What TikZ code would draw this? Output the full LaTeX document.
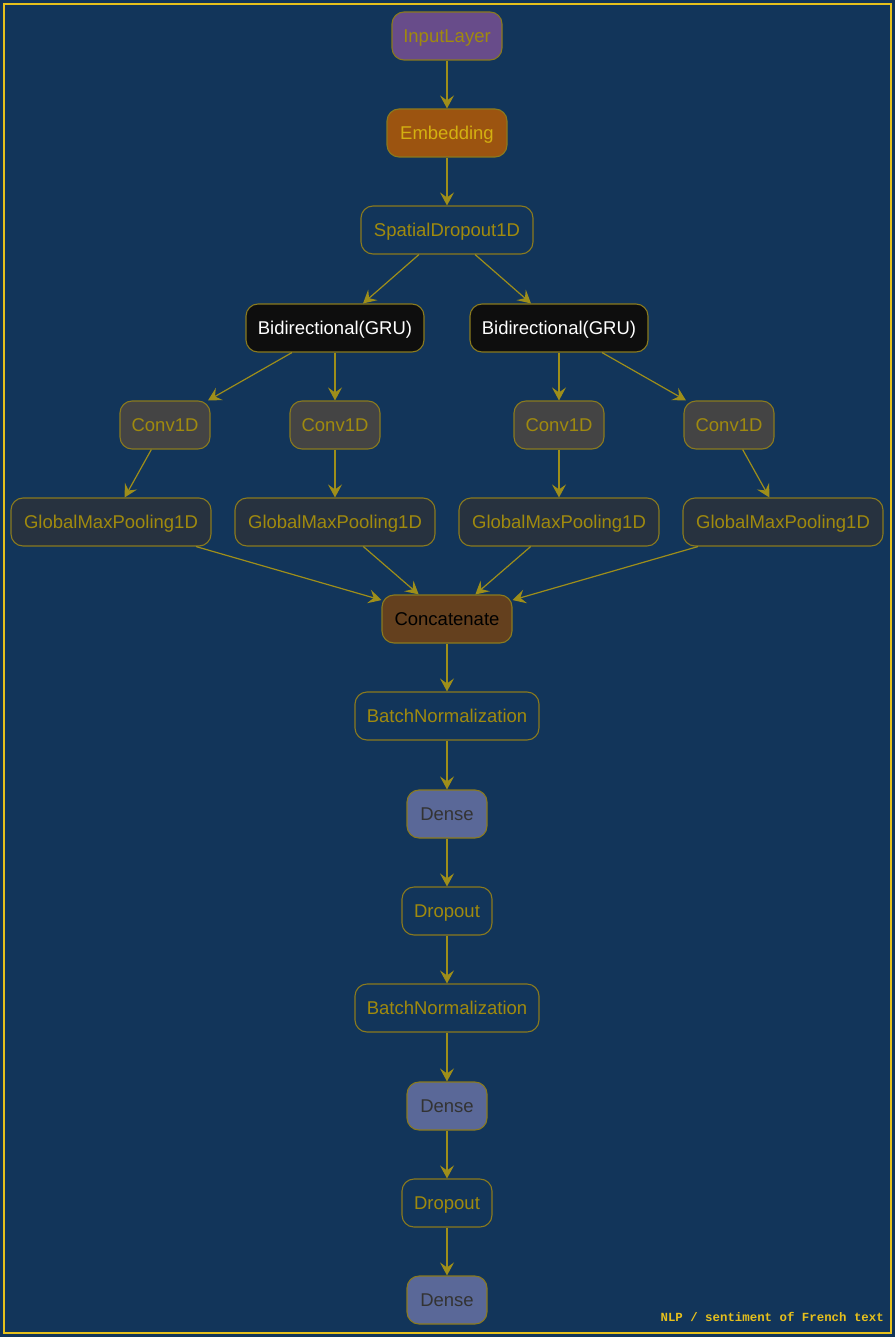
\documentclass[tikz,border=0pt]{standalone}
\usepackage{fontspec}
\setmainfont{Liberation Sans}
\newfontfamily\footfont{Liberation Mono}
\usetikzlibrary{arrows.meta}
\definecolor{bgc}{HTML}{12355A}
\definecolor{framec}{HTML}{E6C01C}
\definecolor{nborder}{HTML}{8A7A1E}
\definecolor{olive}{HTML}{A08A0E}
\definecolor{edgec}{HTML}{9E8E1A}
\definecolor{purp}{HTML}{684C8A}
\definecolor{embc}{HTML}{9C5410}
\definecolor{embt}{HTML}{D4B010}
\definecolor{gruc}{HTML}{0E0E0E}
\definecolor{convc}{HTML}{444444}
\definecolor{gmpc}{HTML}{27323F}
\definecolor{catc}{HTML}{64401E}
\definecolor{densec}{HTML}{5A6898}
\definecolor{denset}{HTML}{333333}
\tikzset{
  layer/.style={draw=nborder, line width=1.1pt, rounded corners=12pt, minimum height=48pt,
    inner sep=0pt, text height=13pt, text depth=0pt, text=olive, font=\fontsize{18.5}{22}\selectfont},
  conn/.style={draw=edgec, line width=1.2pt, -{Stealth[length=13pt,width=14pt,inset=5pt]}},
}
\begin{document}
\begin{tikzpicture}[x=1pt,y=-1pt]
\fill[bgc] (0,0) rectangle (895,1337);
\useasboundingbox (0,0) rectangle (895,1337);
\draw[framec, line width=2pt] (4,4) rectangle (891,1333);

\node[layer, fill=purp, minimum width=110pt] (inp) at (447,36) {InputLayer};
\node[layer, fill=embc, text=embt, minimum width=120pt] (emb) at (447,133) {Embedding};
\node[layer, minimum width=172pt] (sp) at (447,230) {SpatialDropout1D};
\node[layer, fill=gruc, text=white, minimum width=178pt] (bil) at (335,328) {Bidirectional(GRU)};
\node[layer, fill=gruc, text=white, minimum width=178pt] (bir) at (559,328) {Bidirectional(GRU)};
\node[layer, fill=convc, minimum width=90pt] (c1) at (165,425) {Conv1D};
\node[layer, fill=convc, minimum width=90pt] (c2) at (335,425) {Conv1D};
\node[layer, fill=convc, minimum width=90pt] (c3) at (559,425) {Conv1D};
\node[layer, fill=convc, minimum width=90pt] (c4) at (729,425) {Conv1D};
\node[layer, fill=gmpc, minimum width=200pt] (g1) at (111,522) {GlobalMaxPooling1D};
\node[layer, fill=gmpc, minimum width=200pt] (g2) at (335,522) {GlobalMaxPooling1D};
\node[layer, fill=gmpc, minimum width=200pt] (g3) at (559,522) {GlobalMaxPooling1D};
\node[layer, fill=gmpc, minimum width=200pt] (g4) at (783,522) {GlobalMaxPooling1D};
\node[layer, fill=catc, text=black, minimum width=130pt] (cat) at (447,619) {Concatenate};
\node[layer, minimum width=184pt] (bn1) at (447,716) {BatchNormalization};
\node[layer, fill=densec, text=denset, minimum width=80pt] (d1) at (447,814) {Dense};
\node[layer, minimum width=90pt] (dr1) at (447,911) {Dropout};
\node[layer, minimum width=184pt] (bn2) at (447,1008) {BatchNormalization};
\node[layer, fill=densec, text=denset, minimum width=80pt] (d2) at (447,1106) {Dense};
\node[layer, minimum width=90pt] (dr2) at (447,1203) {Dropout};
\node[layer, fill=densec, text=denset, minimum width=80pt] (d3) at (447,1300) {Dense};

\draw[conn] (inp) -- (emb);
\draw[conn] (emb) -- (sp);
\draw[conn] (sp) -- (bil);
\draw[conn] (sp) -- (bir);
\draw[conn] (bil) -- (c1);
\draw[conn] (bil) -- (c2);
\draw[conn] (bir) -- (c3);
\draw[conn] (bir) -- (c4);
\draw[conn] (c1) -- (g1);
\draw[conn] (c2) -- (g2);
\draw[conn] (c3) -- (g3);
\draw[conn] (c4) -- (g4);
\draw[conn] (g1) -- (cat);
\draw[conn] (g2) -- (cat);
\draw[conn] (g3) -- (cat);
\draw[conn] (g4) -- (cat);
\draw[conn] (cat) -- (bn1);
\draw[conn] (bn1) -- (d1);
\draw[conn] (d1) -- (dr1);
\draw[conn] (dr1) -- (bn2);
\draw[conn] (bn2) -- (d2);
\draw[conn] (d2) -- (dr2);
\draw[conn] (dr2) -- (d3);

\node[anchor=base east, inner sep=0pt, text=framec, font=\footfont\bfseries\fontsize{12.4}{14}\selectfont] (foot) at (884,1321) {NLP / sentiment of French text};
\end{tikzpicture}
\end{document}
